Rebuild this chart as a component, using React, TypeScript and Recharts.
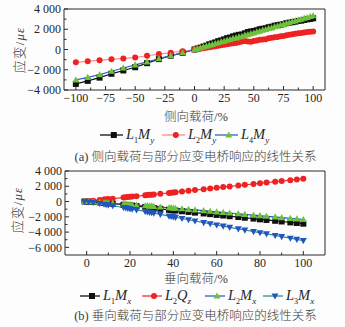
import { LineChart, Line, XAxis, YAxis, ReferenceArea } from "recharts";

// (a) 侧向载荷 — load %, strain με
const LAT_X = [
  -100, -90, -80, -70, -60, -50, -40, -30, -20, -10, 0,
  2.5, 5, 7.5, 10, 12.5, 15, 17.5, 20, 22.5, 25,
  27.5, 30, 32.5, 35, 37.5, 40, 42.5, 45, 47.5, 50,
  52.5, 55, 57.5, 60, 62.5, 65, 67.5, 70, 72.5, 75,
  77.5, 80, 82.5, 85, 87.5, 90, 92.5, 95, 97.5, 100,
];
const LAT_L1MY = [
  -3400, -3100, -2780, -2400, -2070, -1750, -1350, -950, -620, -330, 0,
  100, 180, 290, 380, 520, 600, 700, 820, 900, 1000,
  1120, 1180, 1300, 1380, 1450, 1480, 1600, 1720, 1780, 1830,
  1900, 2000, 2050, 2100, 2200, 2250, 2350, 2400, 2450, 2500,
  2600, 2650, 2700, 2750, 2820, 2850, 2920, 2980, 3020, 3080,
];
const LAT_L2MY = [
  -1270, -1170, -1050, -970, -880, -800, -620, -450, -310, -170, 0,
  30, 80, 120, 170, 220, 260, 310, 360, 420, 470,
  520, 560, 620, 650, 720, 780, 850, 800, 760, 830,
  900, 960, 1000, 1020, 1100, 1160, 1200, 1240, 1300, 1340,
  1400, 1450, 1500, 1550, 1600, 1640, 1680, 1720, 1760, 1780,
];
const LAT_L4MY = [
  -3000, -2750, -2480, -2150, -1830, -1520, -1230, -900, -600, -320, 0,
  90, 160, 260, 330, 430, 490, 590, 660, 760, 830,
  930, 990, 1090, 1150, 1250, 1310, 1410, 1470, 1570, 1630,
  1740, 1800, 1910, 1970, 2080, 2140, 2250, 2310, 2420, 2480,
  2590, 2650, 2760, 2820, 2930, 2990, 3100, 3160, 3260, 3330,
];

// (b) 垂向载荷
const VER_X = [
  -1, 1, 3, 6, 8, 9, 10, 12, 17, 18, 19, 20, 21, 23, 27, 28, 29, 30, 31, 34,
  38, 39, 40, 41, 44, 47, 50, 54, 57, 60, 63, 66, 70, 73, 77, 80, 83, 87, 90, 94, 97, 100,
];
const VER_L1MX = [
  0, -20, -60, -120, -180, -200, -230, -280, -420, -450, -480, -500, -530, -600, -730, -760, -790, -820, -850, -950,
  -1080, -1110, -1150, -1180, -1270, -1360, -1450, -1560, -1650, -1750, -1830, -1920, -2030, -2120, -2230, -2330, -2410, -2520, -2610, -2730, -2810, -2900,
];
const VER_L2QZ = [
  40, 80, 120, 200, 280, 300, 320, 380, 520, 560, 590, 620, 650, 700, 820, 850, 880, 900, 930, 1020,
  1130, 1160, 1200, 1230, 1320, 1410, 1500, 1620, 1700, 1800, 1890, 1980, 2100, 2190, 2300, 2400, 2490, 2600, 2700, 2800, 2900, 3000,
];
const VER_L2MX = [
  20, 0, -40, -100, -150, -130, -180, -220, -330, -300, -380, -350, -420, -450, -560, -520, -600, -580, -640, -720,
  -820, -790, -860, -880, -950, -1030, -1100, -1200, -1280, -1360, -1430, -1500, -1600, -1680, -1780, -1850, -1930, -2020, -2100, -2200, -2270, -2350,
];
const VER_L3MX = [
  0, -50, -120, -250, -350, -400, -450, -550, -780, -830, -900, -950, -1000, -1100, -1300, -1350, -1420, -1460, -1520, -1680,
  -1900, -1950, -2000, -2060, -2220, -2380, -2550, -2750, -2900, -3070, -3220, -3380, -3580, -3730, -3930, -4080, -4240, -4440, -4600, -4800, -4950, -5120,
];

const LAT_X_TICKS = [-100, -75, -50, -25, 0, 25, 50, 75, 100];
const LAT_X_MINOR = [-87.5, -62.5, -37.5, -12.5, 12.5, 37.5, 62.5, 87.5];
const LAT_Y_TICKS = [-4000, -2000, 0, 2000, 4000];
const LAT_Y_MINOR = [-3000, -1000, 1000, 3000];
const VER_X_TICKS = [0, 20, 40, 60, 80, 100];
const VER_X_MINOR = [10, 30, 50, 70, 90];
const VER_Y_TICKS = [-6000, -4000, -2000, 0, 2000, 4000];
const VER_Y_MINOR = [-5000, -3000, -1000, 1000, 3000];

const AXIS = "#2b2b2b";
const TEXT = "#262626";
const CJK_TEXT = "#3a3a3a";
const SERIF = '"Liberation Serif", "Times New Roman", "Noto Sans CJK SC", serif';

type Shape = "square" | "circle" | "up" | "down";

interface Series {
  key: string;
  values: number[];
  line: string;
  fill: string;
  shape: Shape;
  L: string;
  M: string;
  sub: string;
}

const LAT_SERIES: Series[] = [
  { key: "l1my", values: LAT_L1MY, line: "#111111", fill: "#111111", shape: "square", L: "1", M: "M", sub: "y" },
  { key: "l2my", values: LAT_L2MY, line: "#ff8c8c", fill: "#ee2222", shape: "circle", L: "2", M: "M", sub: "y" },
  { key: "l4my", values: LAT_L4MY, line: "#3a62c8", fill: "#6cc23a", shape: "up", L: "4", M: "M", sub: "y" },
];

const VER_SERIES: Series[] = [
  { key: "l1mx", values: VER_L1MX, line: "#111111", fill: "#111111", shape: "square", L: "1", M: "M", sub: "x" },
  { key: "l2qz", values: VER_L2QZ, line: "#ee3333", fill: "#ee2222", shape: "circle", L: "2", M: "Q", sub: "z" },
  { key: "l2mx", values: VER_L2MX, line: "#2f5fcf", fill: "#6cc23a", shape: "up", L: "2", M: "M", sub: "x" },
  { key: "l3mx", values: VER_L3MX, line: "#2a9090", fill: "#2255c0", shape: "down", L: "3", M: "M", sub: "x" },
];

const fmt = (v: number) => {
  if (v === 0) return "0";
  const abs = Math.abs(v);
  const s = abs >= 1000 ? `${Math.floor(abs / 1000)} ${String(abs % 1000).padStart(3, "0")}` : String(abs);
  return v < 0 ? `\u2212${s}` : s;
};

function Marker({ cx, cy, shape, fill, size }: { cx: number; cy: number; shape: Shape; fill: string; size: number }) {
  const h = size / 2;
  if (shape === "square") return <rect x={cx - h} y={cy - h} width={size} height={size} fill={fill} />;
  if (shape === "circle") return <circle cx={cx} cy={cy} r={h} fill={fill} />;
  if (shape === "up")
    return <polygon points={`${cx},${cy - h * 1.2} ${cx - h * 1.15},${cy + h * 0.85} ${cx + h * 1.15},${cy + h * 0.85}`} fill={fill} />;
  return <polygon points={`${cx},${cy + h * 1.2} ${cx - h * 1.15},${cy - h * 0.85} ${cx + h * 1.15},${cy - h * 0.85}`} fill={fill} />;
}

const makeXTick = (majors: number[]) => (p: any) => {
  const v = p.payload.value;
  const major = majors.includes(v);
  return (
    <g>
      <line x1={p.x} x2={p.x} y1={p.y} y2={p.y - (major ? 4 : 2.5)} stroke={AXIS} />
      {major && (
        <text x={p.x} y={p.y + 12} textAnchor="middle" fontSize={12} fill={TEXT} fontFamily={SERIF}>
          {fmt(v)}
        </text>
      )}
    </g>
  );
};

const makeYTick = (majors: number[]) => (p: any) => {
  const v = p.payload.value;
  const major = majors.includes(v);
  return (
    <g>
      <line x1={p.x} x2={p.x + (major ? 4 : 2.5)} y1={p.y} y2={p.y} stroke={AXIS} />
      {major && (
        <text x={p.x - 3} y={p.y} dy="0.35em" textAnchor="end" fontSize={12} fill={TEXT} fontFamily={SERIF}>
          {fmt(v)}
        </text>
      )}
    </g>
  );
};

function Panel({
  xs,
  series,
  xDomain,
  yDomain,
  xMajor,
  xMinor,
  yMajor,
  yMinor,
  height,
  top,
  left,
  markerSize,
}: {
  xs: number[];
  series: Series[];
  xDomain: [number, number];
  yDomain: [number, number];
  xMajor: number[];
  xMinor: number[];
  yMajor: number[];
  yMinor: number[];
  height: number;
  top: number;
  left: number;
  markerSize: number;
}) {
  const data = xs.map((x, i) => {
    const row: Record<string, number> = { x };
    series.forEach((s) => (row[s.key] = s.values[i]));
    return row;
  });
  return (
    <LineChart width={345} height={height} data={data} margin={{ top, right: 20, bottom: 0, left: 0 }}>
      <XAxis
        dataKey="x"
        type="number"
        domain={xDomain}
        ticks={[...xMajor, ...xMinor].sort((a, b) => a - b)}
        interval={0}
        height={15}
        axisLine={false}
        tickLine={false}
        tickSize={0}
        tickMargin={0}
        tick={makeXTick(xMajor)}
        allowDataOverflow
      />
      <YAxis
        type="number"
        domain={yDomain}
        ticks={[...yMajor, ...yMinor].sort((a, b) => a - b)}
        interval={0}
        width={left}
        axisLine={false}
        tickLine={false}
        tickSize={0}
        tickMargin={0}
        tick={makeYTick(yMajor)}
        allowDataOverflow
      />
      <ReferenceArea x1={xDomain[0]} x2={xDomain[1]} y1={yDomain[0]} y2={yDomain[1]} fill="none" stroke={AXIS} strokeWidth={1} />
      {series.map((s) => (
        <Line
          key={s.key}
          dataKey={s.key}
          type="linear"
          stroke={s.line}
          strokeWidth={1.2}
          isAnimationActive={false}
          activeDot={false}
          dot={(p: any) => (
            <Marker key={`${s.key}-${p.index}`} cx={p.cx} cy={p.cy} shape={s.shape} fill={s.fill} size={markerSize} />
          )}
        />
      ))}
    </LineChart>
  );
}

function SeriesLabel({ s }: { s: Series }) {
  return (
    <span style={{ fontFamily: SERIF, fontSize: 14.5, color: TEXT, whiteSpace: "nowrap" }}>
      <i>L</i>
      <sub style={{ fontSize: 8 }}>{s.L}</sub>
      <i>{s.M}</i>
      <sub style={{ fontSize: 9 }}>
        <i>{s.sub}</i>
      </sub>
    </span>
  );
}

function LegendRow({ series, lefts, y, iconW }: { series: Series[]; lefts: number[]; y: number; iconW: number }) {
  return (
    <>
      {series.map((s, i) => (
        <div key={s.key} style={{ position: "absolute", left: lefts[i], top: y - 10, height: 20, display: "flex", alignItems: "center" }}>
          <svg width={iconW} height={10} style={{ marginRight: 3 }}>
            <line x1={0} x2={iconW} y1={5} y2={5} stroke={s.line} strokeWidth={1.3} />
            <Marker cx={iconW * 0.6} cy={5} shape={s.shape} fill={s.fill} size={6} />
          </svg>
          <SeriesLabel s={s} />
        </div>
      ))}
    </>
  );
}

const centered = (x: number, y: number, extra: React.CSSProperties = {}): React.CSSProperties => ({
  position: "absolute",
  left: x,
  top: y,
  transform: "translate(-50%, -50%)",
  whiteSpace: "nowrap",
  fontFamily: SERIF,
  color: CJK_TEXT,
  fontWeight: 300,
  ...extra,
});

function YTitle({ x, y }: { x: number; y: number }) {
  return (
    <div style={centered(x, y, { transform: "translate(-50%, -50%) rotate(-90deg)", fontSize: 13, letterSpacing: 1 })}>
      应变/<i>με</i>
    </div>
  );
}

export default function App() {
  return (
    <div style={{ position: "absolute", left: 0, top: 0, width: 345, height: 327, background: "#fdfdfd", overflow: "hidden" }}>
      <div style={{ position: "absolute", left: 0, top: 0 }}>
        <Panel
          xs={LAT_X}
          series={LAT_SERIES}
          xDomain={[-110, 110]}
          yDomain={[-4000, 4000]}
          xMajor={LAT_X_TICKS}
          xMinor={LAT_X_MINOR}
          yMajor={LAT_Y_TICKS}
          yMinor={LAT_Y_MINOR}
          height={105}
          top={9}
          left={64}
          markerSize={6}
        />
      </div>
      <YTitle x={18} y={50} />
      <div style={centered(196, 115, { fontSize: 12.5 })}>侧向载荷/%</div>
      <LegendRow series={LAT_SERIES} lefts={[100, 162, 215]} y={135} iconW={23} />
      <div style={centered(195.5, 155, { fontSize: 12.5 })}>(a) 侧向载荷与部分应变电桥响应的线性关系</div>

      <div style={{ position: "absolute", left: 0, top: 160 }}>
        <Panel
          xs={VER_X}
          series={VER_SERIES}
          xDomain={[-10, 110]}
          yDomain={[-7000, 4000]}
          xMajor={VER_X_TICKS}
          xMinor={VER_X_MINOR}
          yMajor={VER_Y_TICKS}
          yMinor={VER_Y_MINOR}
          height={110}
          top={11}
          left={65}
          markerSize={6}
        />
      </div>
      <YTitle x={16} y={210} />
      <div style={centered(196, 277, { fontSize: 12.5 })}>垂向载荷/%</div>
      <LegendRow series={VER_SERIES} lefts={[80, 142, 205, 263]} y={296} iconW={20} />
      <div style={centered(195.5, 314, { fontSize: 12.5 })}>(b) 垂向载荷与部分应变电桥响应的线性关系</div>
    </div>
  );
}
